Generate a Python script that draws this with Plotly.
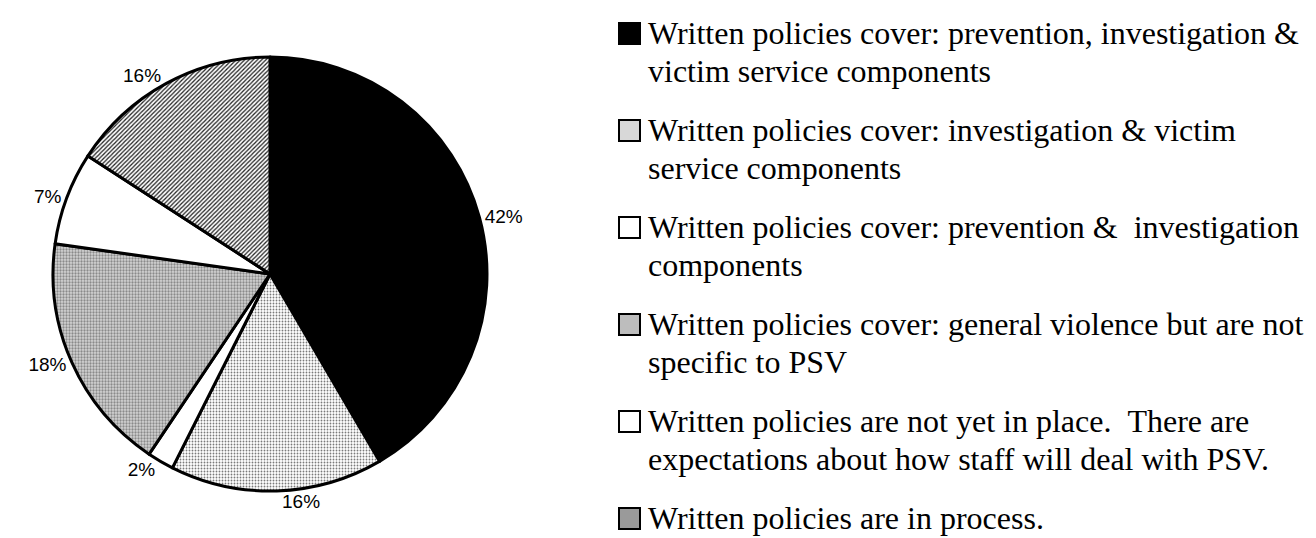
import plotly.graph_objects as go

# ---- data ----
categories = [
    "Written policies cover: prevention, investigation &|victim service components",
    "Written policies cover: investigation & victim|service components",
    "Written policies cover: prevention &  investigation|components",
    "Written policies cover: general violence but are not|specific to PSV",
    "Written policies are not yet in place.  There are|expectations about how staff will deal with PSV.",
    "Written policies are in process.",
]
values = [42, 16, 2, 18, 7, 16]
pct_labels = ["42%", "16%", "2%", "18%", "7%", "16%"]

# ---- styles ----
fill_bg = ["black", "white", "white", "#d4d4d4", "white", "white"]
pat_shape = ["", ".", "", ".", "", "/"]
pat_fg = ["black", "#7a7a7a", "white", "#8a8a8a", "white", "#222222"]
pat_solidity = [0.3, 0.3, 0.3, 0.45, 0.3, 0.42]
legend_fill = ["black", "#d8d8d8", "white", "#bdbdbd", "white", "#9a9a9a"]

W, H = 1316, 538
cx, cy, r = 262, 266, 217

fig = go.Figure()
fig.add_trace(go.Pie(
    labels=[c.replace("|", " ") for c in categories],
    values=values,
    text=pct_labels,
    textinfo="text",
    textposition="outside",
    sort=False,
    direction="clockwise",
    rotation=0,
    hole=0,
    showlegend=False,
    hoverinfo="label+text",
    outsidetextfont=dict(family="Liberation Sans, Arial", size=19, color="black"),
    marker=dict(
        colors=fill_bg,
        line=dict(color="black", width=3),
        pattern=dict(shape=pat_shape, fgcolor=pat_fg, bgcolor=fill_bg,
                     size=3, solidity=pat_solidity, fillmode="replace"),
    ),
    domain=dict(x=[(cx - r) / W, (cx + r) / W], y=[(H - cy - r) / H, (H - cy + r) / H]),
))

# ---- legend drawn as text + boxes ----
sq_x0, sq_size = 611, 21
text_x = 638
first_base, pitch, line_gap = 36, 97, 38
fs = 32
for i, cat in enumerate(categories):
    lines = cat.split("|")
    base = first_base + i * pitch
    fig.add_shape(type="rect", xref="paper", yref="paper",
                  x0=sq_x0 / W, x1=(sq_x0 + sq_size) / W,
                  y0=1 - base / H, y1=1 - (base - sq_size) / H,
                  fillcolor=legend_fill[i], line=dict(color="black", width=2))
    for j, ln in enumerate(lines):
        b = base + j * line_gap
        fig.add_annotation(
            x=text_x / W, y=1 - (b - 11) / H,
            xref="paper", yref="paper", xanchor="left", yanchor="middle",
            text=ln.replace("&", "&amp;").replace("  ", " &nbsp;"), showarrow=False,
            font=dict(family="Liberation Serif, Times New Roman", size=fs, color="black"),
        )

fig.update_layout(
    width=W, height=H,
    margin=dict(l=0, r=0, t=0, b=0),
    paper_bgcolor="white", plot_bgcolor="white",
)
fig.write_html("out.html")
